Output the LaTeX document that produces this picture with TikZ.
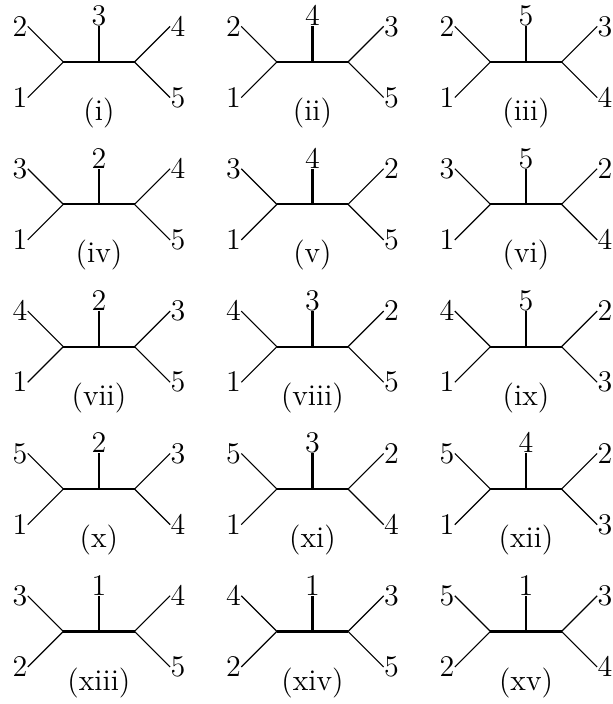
\documentclass[tikz,border=0pt]{standalone}
\usepackage{fontspec}
\usepackage{tikz}

\begin{document}
\begin{tikzpicture}[
  leaf/.style={inner sep=0pt, font=\large},
  twig/.style={line width=0.45pt},
  inner/.style={line width=0.9pt}]
\useasboundingbox (-1.39,-9.02) rectangle (7.22,0.871);
\foreach \ul/\ll/\tp/\ur/\lr [count=\k from 0] in
  {2/1/3/4/5, 2/1/4/3/5, 2/1/5/3/4,
   3/1/2/4/5, 3/1/4/2/5, 3/1/5/2/4,
   4/1/2/3/5, 4/1/3/2/5, 4/1/5/2/3,
   5/1/2/3/4, 5/1/3/2/4, 5/1/4/2/3,
   3/2/1/4/5, 4/2/1/3/5, 5/2/1/3/4}
{
  \pgfmathtruncatemacro{\col}{mod(\k,3)}
  \pgfmathtruncatemacro{\row}{int(\k/3)}
  \begin{scope}[shift={(3*\col,-2*\row)}]
    \coordinate (L\k) at (-0.5,0);
    \coordinate (M\k) at (0,0);
    \coordinate (R\k) at (0.5,0);
    \node[leaf, anchor=east] (ul\k) at (-1,0.5) {$\ul$};
    \node[leaf, anchor=east] (ll\k) at (-1,-0.5) {$\ll$};
    \node[leaf, anchor=south] (tp\k) at (0,0.5) {$\tp$};
    \node[leaf, anchor=west] (ur\k) at (1,0.5) {$\ur$};
    \node[leaf, anchor=west] (lr\k) at (1,-0.5) {$\lr$};
    \node[leaf, anchor=north] (cap\k) at (0,-0.5)
      {(\romannumeral\numexpr\k+1\relax)};
    \draw[inner] (L\k) -- (R\k);
    \draw[inner] (M\k) -- (tp\k.south);
    \draw[twig] (L\k) -- (ul\k.east);
    \draw[twig] (L\k) -- (ll\k.east);
    \draw[twig] (R\k) -- (ur\k.west);
    \draw[twig] (R\k) -- (lr\k.west);
  \end{scope}
}
\end{tikzpicture}
\end{document}
